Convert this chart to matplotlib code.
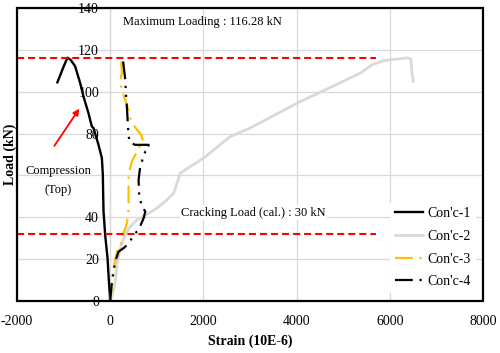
#Imports
import matplotlib
matplotlib.use("Agg")
import matplotlib.pyplot as plt
from matplotlib.patches import Rectangle

#Data (strain in 10E-6, load in kN)
conc1Strain = [0, -30, -57, -108, -143, -150, -158, -179, -251, -358, -394, -467, -574, -645, -753, -850, -918, -1000, -1133]
conc1Load = [0, 10, 20.3, 31.5, 42.7, 50, 60.3, 68.3, 74.6, 82.6, 83.4, 89.8, 97.8, 104.2, 112.2, 115.3, 116.3, 112, 104.5]

conc2Strain = [0, 60, 108, 143, 215, 323, 430, 573, 717, 1004, 1219, 1362, 1434, 1505, 1720, 2006, 2222, 2580, 3010, 4015, 4700, 5376, 5627, 5878, 6380, 6452, 6470, 6502]
conc2Load = [0, 4, 9.1, 17, 25, 31.5, 35.5, 38.7, 40.3, 44.3, 48.3, 51.5, 56.3, 61.1, 64.2, 68.3, 72.2, 78.6, 82.7, 94.6, 101.8, 109, 113, 114.9, 116.2, 115.7, 110, 105]

conc3Strain = [0, 72, 143, 251, 287, 359, 394, 394, 430, 466, 538, 609, 717, 681, 667, 573, 502, 430, 359, 323, 251, 215, 251, 240, 251]
conc3Load = [0, 15.5, 23.5, 28.3, 32.3, 37.1, 43.5, 60, 63.5, 66.6, 69.8, 73.1, 76.2, 77.9, 79.4, 81.8, 84.2, 87.4, 93.8, 96.2, 100.5, 105, 109, 113, 116.5]

conc4Strain = [0, 36, 108, 179, 301, 394, 538, 609, 717, 753, 681, 624, 609, 645, 681, 717, 760, 824, 824, 538, 430, 394, 380, 359, 337, 323, 290, 265]
conc4Load = [0, 9.1, 18.7, 23.5, 25.4, 27.5, 32.3, 33.9, 39.5, 42.7, 45.1, 49.9, 57.9, 64.2, 66.6, 69.8, 71.5, 72.2, 74.6, 74.6, 75.5, 78.6, 84.2, 92.2, 99.4, 105.8, 112, 117]

seriesNames = ["Con'c-1", "Con'c-2", "Con'c-3", "Con'c-4"]

#Reference levels
maxLoad = 116.28
crackLoad = 32
refLineEnd = 5700

#Tick values (the 60 label is hidden behind the "Compression" note in the original)
xTicks = [-2000, 0, 2000, 4000, 6000, 8000]
yTicks = [0, 20, 40, 60, 80, 100, 120, 140]
yTickLabels = ["0", "20", "40", "", "80", "100", "120", "140"]

#Figure setup
plt.rcParams['font.family'] = ['Liberation Serif', 'DejaVu Serif']
plt.rcParams['axes.unicode_minus'] = False
fig = plt.figure(figsize=(5, 3.53), dpi=100)
ax = fig.add_axes([0.034, 0.148, 0.932, 0.829])

gridColor = "#d9d9d9"

#Plot the curves
ax.plot(conc1Strain, conc1Load, color="black", lw=1.7, label=seriesNames[0], zorder=3)
ax.plot(conc2Strain, conc2Load, color=gridColor, lw=2.0, label=seriesNames[1], zorder=3)
ax.plot(conc3Strain, conc3Load, color="#ffc000", lw=1.6, dashes=(8, 3, 1, 3),
        label=seriesNames[2], zorder=3)
ax.plot(conc4Strain, conc4Load, color="black", lw=1.6, dashes=(8, 3, 1, 3, 1, 3),
        label=seriesNames[3], zorder=4)

#Red reference lines
ax.plot([xTicks[0], refLineEnd], [maxLoad, maxLoad], color="red", lw=1.5, dashes=(3.4, 1.9), zorder=5)
ax.plot([xTicks[0], refLineEnd], [crackLoad, crackLoad], color="red", lw=1.5, dashes=(3.4, 1.9), zorder=5)

#Annotations
ax.text(280, 133.3, "Maximum Loading : 116.28 kN", fontsize=9, va="center", ha="left")
ax.text(1527, 42.2, "Cracking Load (cal.) : 30 kN", fontsize=9, va="center", ha="left",
        bbox=dict(facecolor="white", edgecolor="none", pad=1), zorder=2)
ax.text(-1118, 57.5, "Compression\n(Top)", fontsize=9, va="center", ha="center",
        linespacing=1.7)
ax.annotate("", xy=(-630, 93), xytext=(-1232, 73),
            arrowprops=dict(arrowstyle="-|>", color="red", lw=1.3, mutation_scale=9))

#Axes limits, ticks and grid
ax.set_xlim(xTicks[0], xTicks[-1])
ax.set_ylim(yTicks[0], yTicks[-1])
ax.set_xticks(xTicks)
ax.set_yticks(yTicks)
ax.set_yticklabels(yTickLabels)
ax.grid(True, color=gridColor, lw=0.9, zorder=0)
ax.set_axisbelow(True)
ax.tick_params(axis="both", length=0, labelsize=10)
ax.tick_params(axis="x", pad=10)
ax.tick_params(axis="y", pad=8)

#Vertical axis crosses at zero like the original
ax.spines['left'].set_position(('data', 0))
ax.spines['left'].set_color(gridColor)
ax.spines['left'].set_linewidth(0.9)
for side in ['top', 'right', 'bottom']:
    ax.spines[side].set_visible(False)
border = Rectangle((0, 0), 1, 1, transform=ax.transAxes, fill=False,
                   edgecolor="black", lw=1.6, zorder=6, clip_on=False)
ax.add_patch(border)

#Axis labels
ax.set_xlabel("Strain (10E-6)", fontsize=10, fontweight="bold", labelpad=5)
fig.text(0.02, 0.148 + 0.829 / 2, "Load (kN)", fontsize=10, fontweight="bold",
         rotation=90, va="center", ha="center")

#Legend
leg = ax.legend(loc="lower right", bbox_to_anchor=(1.0, 0.0), frameon=True, fontsize=10,
                handlelength=2.0, handletextpad=0.3, labelspacing=0.7,
                borderaxespad=0.5)
leg.get_frame().set_edgecolor("none")
leg.get_frame().set_facecolor("white")
leg.get_frame().set_alpha(1)

#Save the figure
fig.savefig("out.png", dpi=100)
